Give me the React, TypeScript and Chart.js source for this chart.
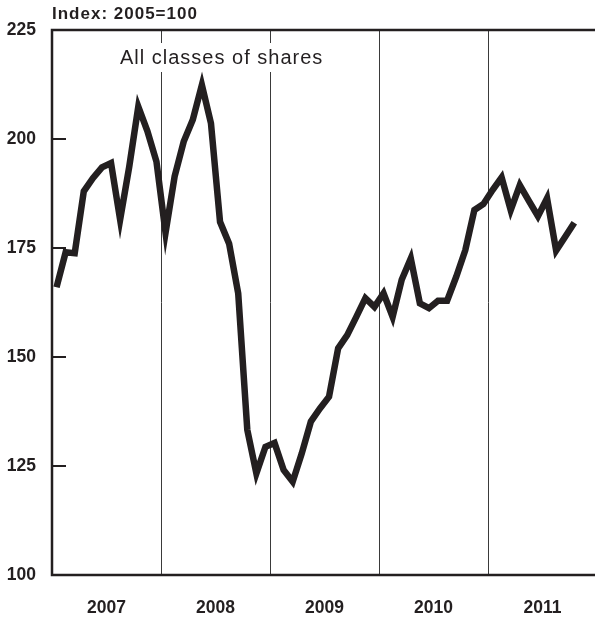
import React, { useEffect, useRef } from "react";
import { Chart, registerables } from "chart.js";

Chart.register(...registerables);

const years = ["2007", "2008", "2009", "2010", "2011"];
const yTicks = [100, 125, 150, 175, 200, 225];
const innerTicks = [125, 150, 175, 200];
const unitLabel = "Index: 2005=100";
const titleText = "All classes of shares";
// Monthly index, Jan 2007 – Oct 2011
const values = [
  166, 174, 173.8, 188, 191, 193.5, 194.5, 181.5, 193.6, 207.4, 201.8, 194.8,
  178.5, 191.4, 199.4, 204.4, 212.4, 203.6, 181, 176, 164.6, 133.3, 123.3, 129.4,
  130.3, 124.1, 121.4, 127.9, 135.2, 138.2, 140.9, 152, 155, 159.2, 163.5, 161.5,
  164.6, 159.2, 167.7, 172.6, 162.3, 161.2, 162.9, 162.9, 168.4, 174.5, 183.7, 185.1,
  188.3, 191.2, 183.7, 189.4, 185.8, 182.3, 186.4, 174.4, 177.6, 180.8,
];

const INK = "#231f20";
const FAMILY = "'Liberation Sans', Arial, Helvetica, sans-serif";

const decor = {
  id: "decor",
  beforeDatasetsDraw(chart: any) {
    const { ctx, chartArea: a, scales } = chart;
    const x = scales.x;
    const y = scales.y;
    ctx.save();
    // year separators
    ctx.strokeStyle = "#3a3a3a";
    ctx.lineWidth = 1;
    for (let i = 1; i < years.length; i++) {
      const px = Math.round(x.getPixelForValue(i * 12)) + 0.5;
      ctx.beginPath();
      ctx.moveTo(px, a.top);
      ctx.lineTo(px, a.bottom);
      ctx.stroke();
    }
    // inner ticks on y axis
    ctx.strokeStyle = INK;
    ctx.lineWidth = 2;
    innerTicks.forEach((v) => {
      const py = y.getPixelForValue(v);
      ctx.beginPath();
      ctx.moveTo(a.left, py);
      ctx.lineTo(a.left + 14, py);
      ctx.stroke();
    });
    // title with white box
    ctx.fillStyle = "#fff";
    ctx.fillRect(113, 43, 222, 29);
    ctx.fillStyle = INK;
    ctx.font = `20px ${FAMILY}`;
    (ctx as any).letterSpacing = "1px";
    ctx.textAlign = "left";
    ctx.textBaseline = "middle";
    ctx.fillText(titleText, 120, 58);
    // unit label
    ctx.font = `bold 17px ${FAMILY}`;
    (ctx as any).letterSpacing = "1px";
    ctx.fillText(unitLabel, 52, 14);
    ctx.restore();
  },
  afterDatasetsDraw(chart: any) {
    const { ctx, chartArea: a } = chart;
    ctx.save();
    ctx.strokeStyle = INK;
    ctx.lineWidth = 2.5;
    ctx.beginPath();
    ctx.moveTo(a.right + 5, a.top);
    ctx.lineTo(a.left, a.top);
    ctx.lineTo(a.left, a.bottom);
    ctx.lineTo(a.right + 5, a.bottom);
    ctx.stroke();
    ctx.restore();
  },
};

export default function App() {
  const ref = useRef<HTMLCanvasElement>(null);
  useEffect(() => {
    if (!ref.current) return;
    const font = { family: FAMILY, size: 17.5, weight: "bold" as const };
    const chart = new Chart(ref.current, {
      type: "line",
      data: {
        datasets: [
          {
            data: values.map((v, i) => ({ x: i + 0.5, y: v })),
            borderColor: INK,
            borderWidth: 6.5,
            pointRadius: 0,
            tension: 0,
            borderJoinStyle: "miter",
            borderCapStyle: "butt",
          },
        ],
      },
      options: {
        responsive: false,
        maintainAspectRatio: false,
        animation: false,
        layout: { padding: { top: 30, right: 3, left: 0, bottom: 0 } },
        plugins: { legend: { display: false }, tooltip: { enabled: false } },
        scales: {
          x: {
            type: "linear",
            min: 0,
            max: 60,
            grid: { display: false },
            border: { display: false },
            afterBuildTicks: (s: any) => {
              s.ticks = years.map((_, i) => ({ value: i * 12 + 6 }));
            },
            afterFit: (s: any) => {
              s.height = 43;
            },
            ticks: {
              autoSkip: false,
              maxRotation: 0,
              padding: 15,
              color: INK,
              font,
              callback: (v: any) => years[Math.round((Number(v) - 6) / 12)],
            },
          },
          y: {
            min: 100,
            max: 225,
            grid: { display: false },
            border: { display: false },
            afterBuildTicks: (s: any) => {
              s.ticks = yTicks.map((v) => ({ value: v }));
            },
            afterFit: (s: any) => {
              s.width = 52;
            },
            ticks: { padding: 8, color: INK, font },
          },
        },
      },
      plugins: [decor],
    });
    return () => chart.destroy();
  }, []);
  return (
    <div
      style={{
        position: "fixed",
        left: 0,
        top: 0,
        width: 595,
        height: 618,
        overflow: "hidden",
        background: "#fff",
      }}
    >
      <canvas ref={ref} width={600} height={618} style={{ display: "block" }} />
    </div>
  );
}
